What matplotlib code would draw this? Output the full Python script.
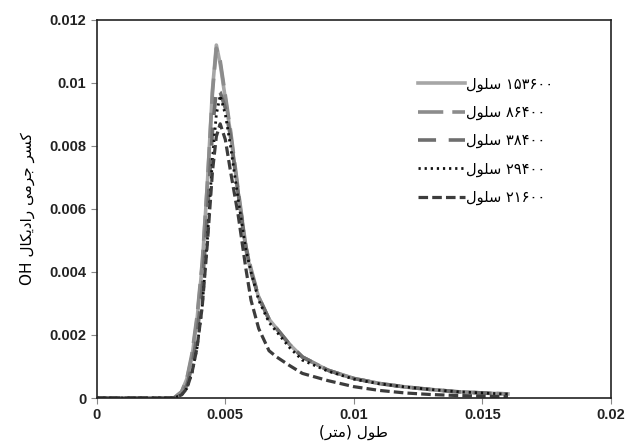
import matplotlib
matplotlib.use("Agg")
import matplotlib.pyplot as plt

# cell counts (legend) and axial position (m)
cells = [153600, 86400, 38400, 29400, 21600]
x_pos = [0, 0.003, 0.0033, 0.0035, 0.0037, 0.0039, 0.0041, 0.0043, 0.0045, 0.00465,
         0.0048, 0.005, 0.0052, 0.0055, 0.0058, 0.006, 0.0063, 0.0067, 0.007, 0.0075,
         0.008, 0.009, 0.010, 0.011, 0.012, 0.013, 0.014, 0.015, 0.016]

oh_153600 = [0, 0, 0.0002, 0.0006, 0.0013, 0.0025, 0.0042, 0.0068, 0.0098, 0.0112,
             0.0106, 0.0095, 0.0084, 0.0065, 0.0047, 0.0040, 0.0032, 0.0025, 0.0022, 0.0017,
             0.0013, 0.00088, 0.00062, 0.00046, 0.00035, 0.00027, 0.0002, 0.00016, 0.00013]
oh_86400 = [0, 0, 0.0002, 0.0006, 0.0014, 0.0026, 0.0043, 0.0068, 0.0097, 0.0111,
            0.0107, 0.0096, 0.0085, 0.0066, 0.0048, 0.0041, 0.0032, 0.0025, 0.0022, 0.0017,
            0.0013, 0.00088, 0.00062, 0.00046, 0.00035, 0.00027, 0.0002, 0.00016, 0.00013]
oh_38400 = [0, 0, 0.0001, 0.0004, 0.0010, 0.0020, 0.0035, 0.0058, 0.0085, 0.0098,
            0.0097, 0.0092, 0.0083, 0.0065, 0.0048, 0.0040, 0.0032, 0.0025, 0.0022, 0.0017,
            0.0013, 0.00088, 0.00062, 0.00046, 0.00035, 0.00027, 0.0002, 0.00016, 0.00012]
oh_29400 = [0, 0, 0.0001, 0.0003, 0.0008, 0.0016, 0.0029, 0.0050, 0.0076, 0.0090,
            0.0096, 0.0090, 0.0080, 0.0063, 0.0047, 0.0040, 0.0031, 0.0024, 0.0021, 0.0016,
            0.0012, 0.00085, 0.0006, 0.00045, 0.00035, 0.00027, 0.0002, 0.00016, 0.00012]
oh_21600 = [0, 0, 0.0001, 0.0003, 0.0008, 0.0016, 0.0029, 0.0049, 0.0072, 0.0083,
            0.0087, 0.0082, 0.0072, 0.0058, 0.0041, 0.0031, 0.0022, 0.0015, 0.0013, 0.00103,
            0.00078, 0.00055, 0.00036, 0.00024, 0.00016, 0.00011, 0.00008, 0.00006, 0.00004]

x_ticks = [0, 0.005, 0.01, 0.015, 0.02]
x_tick_labels = ["0", "0.005", "0.01", "0.015", "0.02"]
y_ticks = [0, 0.002, 0.004, 0.006, 0.008, 0.01, 0.012]
y_tick_labels = ["0", "0.002", "0.004", "0.006", "0.008", "0.01", "0.012"]

# Persian text written in visual order with presentation forms (no shaping engine)
CELL_WORD = "\uFEDD\uFEEE\uFEE0\uFEB3"  # سلول
Y_LABEL = ("OH " + "\uFEDD\uFE8E\uFB91\uFBFE\uFEA9\uFE8D\uFEAD" + " "
           + "\uFBFD\uFEE3\uFEAE\uFE9F" + " " + "\uFEAE\uFEB4\uFB90")
X_LABEL = "(\uFEAE\uFE98\uFEE3) \uFEDD\uFEEE\uFEC3"  # طول (متر)

FA_DIGITS = str.maketrans("0123456789", "\u06F0\u06F1\u06F2\u06F3\u06F4\u06F5\u06F6\u06F7\u06F8\u06F9")


def cell_label(n):
    return CELL_WORD + " " + str(n).translate(FA_DIGITS)


series = [oh_153600, oh_86400, oh_38400, oh_29400, oh_21600]
styles = [
    dict(color="#A6A6A6", linestyle="-", linewidth=2.6),
    dict(color="#8C8C8C", linestyle=(0, (7, 2.5)), linewidth=2.6),
    dict(color="#6E6E6E", linestyle=(0, (5, 3.5)), linewidth=2.6),
    dict(color="#111111", linestyle=(0, (0.8, 1.4)), linewidth=2.0),
    dict(color="#3C3C3C", linestyle=(0, (3, 1.3)), linewidth=2.3),
]

plt.rcParams["font.family"] = ["DejaVu Sans"]

fig = plt.figure(figsize=(6.29, 4.41), dpi=100)
ax = fig.add_axes([0.154, 0.0975, 0.817, 0.8575])

for n, y, st in zip(cells, series, styles):
    ax.plot(x_pos, y, label=cell_label(n), **st)

ax.set_xlim(0, 0.02)
ax.set_ylim(0, 0.012)
ax.set_xticks(x_ticks)
ax.set_xticklabels(x_tick_labels)
ax.set_yticks(y_ticks)
ax.set_yticklabels(y_tick_labels)
for lab in ax.get_xticklabels() + ax.get_yticklabels():
    lab.set_fontfamily("Liberation Sans")
    lab.set_fontweight("bold")
    lab.set_fontsize(10.5)
    lab.set_color("#222222")
ax.tick_params(axis="both", direction="out", length=4, color="#888888")

for spine in ax.spines.values():
    spine.set_color("#222222")
    spine.set_linewidth(1.2)

ax.set_ylabel(Y_LABEL, fontsize=11, labelpad=10)
ax.set_xlabel(X_LABEL, fontsize=11, labelpad=2)

ax.legend(loc="upper left", bbox_to_anchor=(0.6, 0.885), frameon=False,
          fontsize=10.5, handlelength=3.2, handletextpad=0.1, labelspacing=0.9)

fig.savefig("out.png", dpi=100)
